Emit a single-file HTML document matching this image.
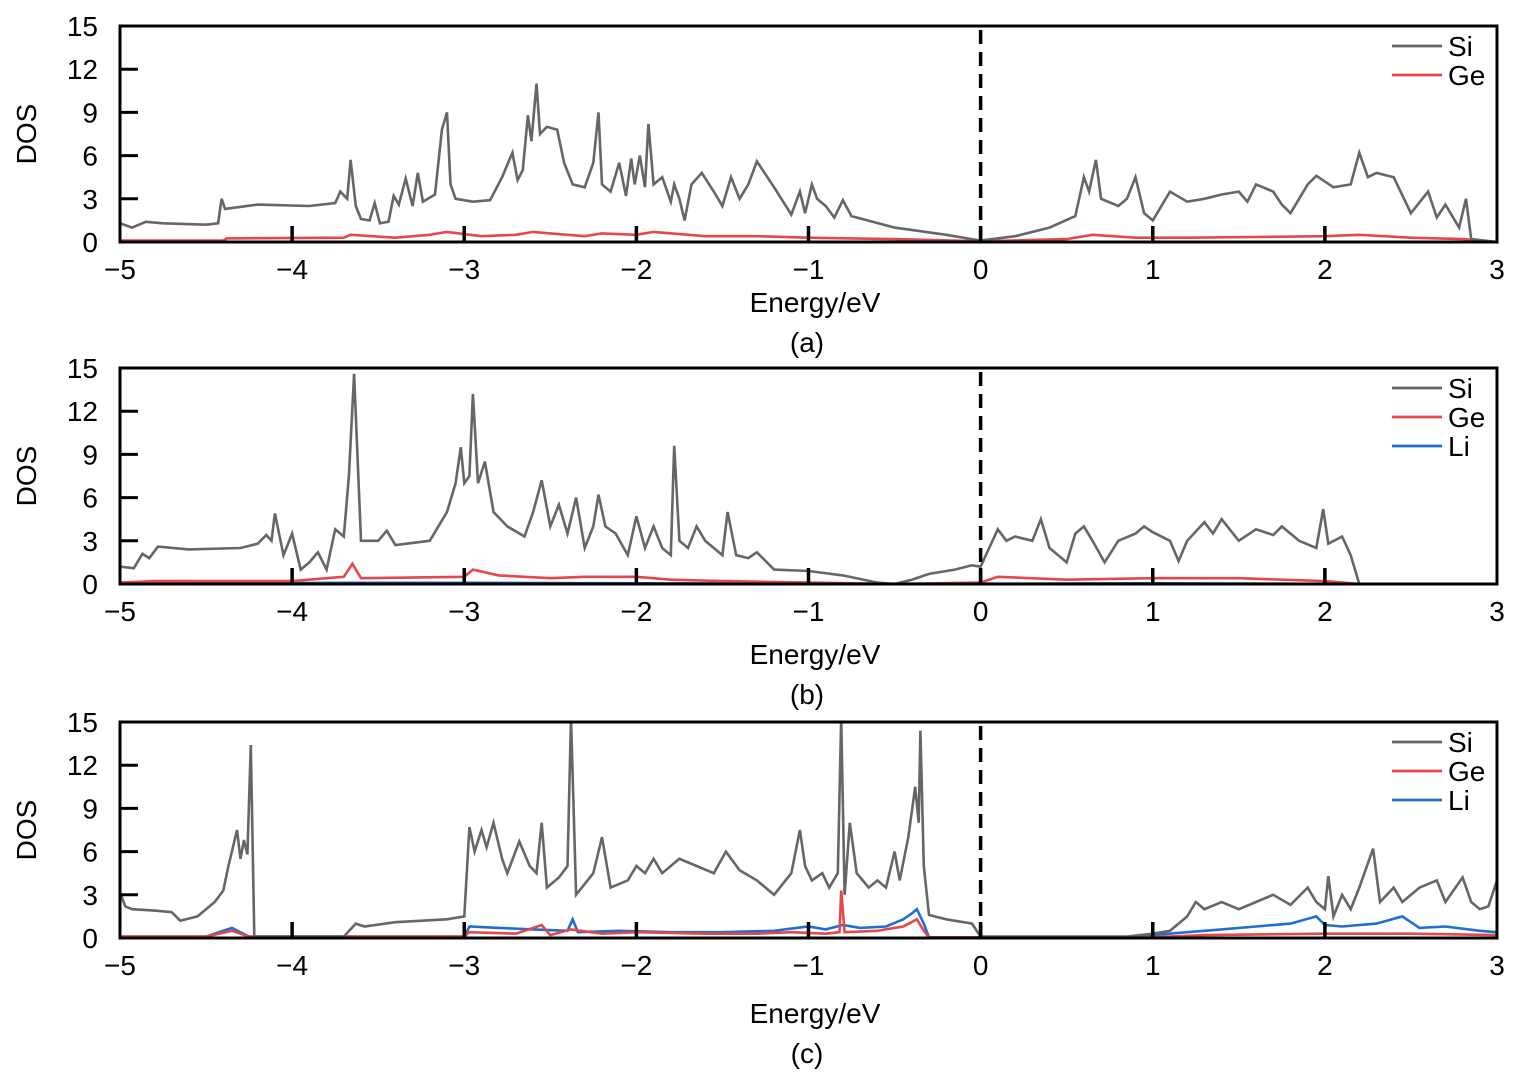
<!DOCTYPE html>
<html><head><meta charset="utf-8">
<style>
html,body{margin:0;padding:0;background:#fff;}
svg text{font-family:"Liberation Sans",Arial,sans-serif;fill:#000;}
</style></head>
<body>
<svg id="chart" width="1520" height="1070" xmlns="http://www.w3.org/2000/svg"></svg>
<script>
const xTicks=[-5,-4,-3,-2,-1,0,1,2,3];
const yTicks=[0,3,6,9,12,15];
const panelLabels=["(a)","(b)","(c)"];
const siA=[[-5,1.3],[-4.93,1.0],[-4.85,1.4],[-4.75,1.3],[-4.5,1.2],[-4.43,1.3],[-4.41,3.0],[-4.39,2.3],[-4.2,2.6],[-3.9,2.5],[-3.75,2.7],[-3.72,3.5],[-3.68,3.0],[-3.66,5.7],[-3.63,2.5],[-3.6,1.6],[-3.55,1.5],[-3.52,2.7],[-3.49,1.3],[-3.44,1.4],[-3.41,3.2],[-3.38,2.6],[-3.34,4.4],[-3.3,2.5],[-3.27,4.8],[-3.24,2.8],[-3.17,3.3],[-3.13,7.8],[-3.1,9.0],[-3.08,4.0],[-3.05,3.0],[-2.95,2.8],[-2.85,2.9],[-2.78,4.5],[-2.72,6.2],[-2.69,4.3],[-2.66,5.0],[-2.63,8.8],[-2.61,7.0],[-2.58,11.0],[-2.56,7.5],[-2.52,8.0],[-2.46,7.8],[-2.42,5.5],[-2.37,4.0],[-2.3,3.8],[-2.25,5.5],[-2.22,9.0],[-2.2,4.0],[-2.15,3.5],[-2.1,5.5],[-2.06,3.2],[-2.03,5.8],[-2.01,4.0],[-1.98,6.0],[-1.95,3.8],[-1.93,8.2],[-1.9,4.0],[-1.85,4.5],[-1.8,2.8],[-1.78,4.0],[-1.75,3.0],[-1.72,1.5],[-1.68,4.0],[-1.62,4.8],[-1.55,3.5],[-1.5,2.5],[-1.45,4.5],[-1.4,3.0],[-1.35,4.0],[-1.3,5.6],[-1.2,3.8],[-1.1,1.9],[-1.05,3.5],[-1.02,2.0],[-0.98,4.0],[-0.95,3.0],[-0.9,2.5],[-0.85,1.7],[-0.8,2.9],[-0.75,1.8],[-0.5,1.0],[-0.2,0.5],[0,0.1],[0.2,0.4],[0.4,1.0],[0.55,1.8],[0.6,4.5],[0.63,3.5],[0.67,5.7],[0.7,3.0],[0.8,2.5],[0.85,3.0],[0.9,4.5],[0.95,2.0],[1.0,1.5],[1.1,3.5],[1.2,2.8],[1.3,3.0],[1.4,3.3],[1.5,3.5],[1.55,2.8],[1.6,4.0],[1.7,3.5],[1.75,2.6],[1.8,2.0],[1.85,3.0],[1.9,4.0],[1.95,4.6],[2.05,3.8],[2.15,4.0],[2.2,6.2],[2.25,4.5],[2.3,4.8],[2.4,4.5],[2.5,2.0],[2.6,3.5],[2.65,1.7],[2.7,2.6],[2.78,1.0],[2.82,3.0],[2.85,0.2],[3,0]];
const geA=[[-5,0.1],[-4.4,0.1],[-4.38,0.25],[-3.7,0.3],[-3.66,0.5],[-3.4,0.3],[-3.2,0.5],[-3.1,0.7],[-2.9,0.4],[-2.7,0.5],[-2.6,0.7],[-2.5,0.6],[-2.3,0.4],[-2.2,0.6],[-2.0,0.5],[-1.9,0.7],[-1.6,0.4],[-1.3,0.4],[-1.0,0.3],[-0.5,0.2],[0,0.05],[0.5,0.2],[0.65,0.5],[0.9,0.3],[1.2,0.3],[1.6,0.35],[2.0,0.4],[2.2,0.5],[2.5,0.3],[2.8,0.2],[3,0]];
const siB=[[-5,1.2],[-4.92,1.1],[-4.87,2.1],[-4.83,1.8],[-4.78,2.6],[-4.6,2.4],[-4.3,2.5],[-4.2,2.8],[-4.15,3.4],[-4.12,3.0],[-4.1,4.9],[-4.05,2.0],[-4.0,3.5],[-3.95,1.0],[-3.9,1.5],[-3.85,2.2],[-3.8,1.0],[-3.75,3.8],[-3.7,3.3],[-3.67,7.5],[-3.64,14.6],[-3.6,3.0],[-3.5,3.0],[-3.45,3.7],[-3.4,2.7],[-3.2,3.0],[-3.1,5.0],[-3.05,7.0],[-3.02,9.5],[-3.0,7.0],[-2.97,7.5],[-2.95,13.2],[-2.92,7.0],[-2.88,8.5],[-2.83,5.0],[-2.75,4.0],[-2.65,3.3],[-2.6,5.0],[-2.55,7.2],[-2.5,4.0],[-2.45,5.5],[-2.4,3.5],[-2.35,6.0],[-2.3,2.5],[-2.25,4.0],[-2.22,6.2],[-2.18,4.0],[-2.12,3.5],[-2.05,2.0],[-2.0,4.7],[-1.95,2.5],[-1.9,4.0],[-1.85,2.5],[-1.8,2.0],[-1.78,9.6],[-1.75,3.0],[-1.7,2.5],[-1.65,4.0],[-1.6,3.0],[-1.55,2.5],[-1.5,2.0],[-1.47,5.0],[-1.42,2.0],[-1.35,1.8],[-1.3,2.2],[-1.2,1.0],[-1.0,0.9],[-0.8,0.6],[-0.6,0.1],[-0.5,0.0],[-0.4,0.3],[-0.3,0.7],[-0.15,1.0],[-0.05,1.3],[0,1.2],[0.05,2.5],[0.1,3.8],[0.15,3.0],[0.2,3.3],[0.3,3.0],[0.35,4.5],[0.4,2.5],[0.5,1.5],[0.55,3.5],[0.6,4.0],[0.65,3.0],[0.72,1.5],[0.8,3.0],[0.9,3.5],[0.95,4.0],[1.0,3.6],[1.1,3.0],[1.15,1.6],[1.2,3.0],[1.3,4.3],[1.35,3.5],[1.4,4.5],[1.5,3.0],[1.6,3.8],[1.7,3.4],[1.75,4.0],[1.85,3.0],[1.95,2.5],[1.99,5.2],[2.02,2.8],[2.1,3.3],[2.15,2.0],[2.2,0],[3,0]];
const geB=[[-5,0.1],[-4.8,0.2],[-4.0,0.2],[-3.7,0.5],[-3.65,1.4],[-3.6,0.4],[-3.0,0.5],[-2.95,1.0],[-2.8,0.6],[-2.5,0.4],[-2.3,0.5],[-2.0,0.5],[-1.8,0.3],[-1.5,0.2],[-1.0,0.1],[-0.5,0],[0,0.1],[0.1,0.5],[0.5,0.3],[1.0,0.4],[1.5,0.4],[2.0,0.2],[2.2,0],[3,0]];
const liB=[[-5,0.03],[-3.65,0.08],[-3.0,0.08],[-2.0,0.05],[-1.0,0.02],[0,0.02],[1.0,0.05],[2.2,0],[3,0]];
const siC=[[-5,3.2],[-4.97,2.2],[-4.93,2.0],[-4.8,1.9],[-4.7,1.8],[-4.65,1.2],[-4.55,1.5],[-4.45,2.5],[-4.4,3.3],[-4.37,5.0],[-4.35,6.0],[-4.32,7.5],[-4.3,5.5],[-4.28,6.8],[-4.26,5.8],[-4.24,13.4],[-4.22,0.1],[-3.7,0.1],[-3.63,1.0],[-3.58,0.8],[-3.4,1.1],[-3.1,1.3],[-3.0,1.5],[-2.97,7.7],[-2.94,6.0],[-2.9,7.5],[-2.87,6.3],[-2.83,8.0],[-2.78,5.5],[-2.75,4.5],[-2.68,6.7],[-2.62,5.0],[-2.58,4.5],[-2.55,8.0],[-2.52,3.5],[-2.45,4.2],[-2.4,5.0],[-2.38,16],[-2.35,3.0],[-2.25,4.5],[-2.2,7.0],[-2.15,3.5],[-2.05,4.0],[-2.0,5.0],[-1.95,4.5],[-1.9,5.5],[-1.85,4.5],[-1.75,5.5],[-1.65,5.0],[-1.55,4.5],[-1.48,6.0],[-1.4,4.7],[-1.3,4.0],[-1.2,3.0],[-1.1,4.5],[-1.05,7.5],[-1.02,5.0],[-0.98,4.0],[-0.92,4.5],[-0.88,3.5],[-0.83,4.5],[-0.81,16],[-0.79,3.0],[-0.76,8.0],[-0.72,4.5],[-0.65,3.5],[-0.6,4.0],[-0.55,3.5],[-0.5,6.0],[-0.47,4.0],[-0.42,7.0],[-0.38,10.5],[-0.36,8.0],[-0.35,14.4],[-0.33,5.0],[-0.3,1.6],[-0.2,1.3],[-0.05,1.0],[0,0.1],[0.85,0.1],[1.0,0.3],[1.1,0.5],[1.2,1.5],[1.25,2.5],[1.3,2.0],[1.4,2.5],[1.5,2.0],[1.6,2.5],[1.7,3.0],[1.8,2.3],[1.9,3.5],[1.95,2.5],[2.0,2.0],[2.02,4.3],[2.05,1.5],[2.1,3.0],[2.15,2.0],[2.2,3.5],[2.28,6.2],[2.32,2.5],[2.4,3.5],[2.45,2.5],[2.55,3.5],[2.65,4.0],[2.7,2.5],[2.8,4.2],[2.85,2.5],[2.9,2.0],[2.95,2.2],[3.0,4.0]];
const geC=[[-5,0.1],[-4.5,0.1],[-4.35,0.5],[-4.25,0.1],[-3.0,0.1],[-2.97,0.4],[-2.7,0.3],[-2.55,0.9],[-2.5,0.2],[-2.38,0.6],[-2.2,0.3],[-2.0,0.4],[-1.6,0.3],[-1.3,0.3],[-1.1,0.4],[-0.9,0.3],[-0.82,0.4],[-0.81,3.3],[-0.79,0.4],[-0.6,0.5],[-0.45,0.8],[-0.37,1.3],[-0.33,0.5],[-0.3,0.05],[1.0,0.05],[1.3,0.2],[2.0,0.3],[2.5,0.3],[3,0.2]];
const liC=[[-5,0.1],[-4.5,0.1],[-4.35,0.7],[-4.25,0.1],[-3.0,0.1],[-2.97,0.8],[-2.8,0.7],[-2.6,0.6],[-2.4,0.5],[-2.37,1.3],[-2.34,0.4],[-2.1,0.5],[-1.8,0.4],[-1.5,0.4],[-1.2,0.5],[-1.0,0.8],[-0.9,0.6],[-0.8,0.9],[-0.7,0.7],[-0.55,0.8],[-0.45,1.3],[-0.4,1.7],[-0.37,2.0],[-0.33,1.0],[-0.3,0.05],[0.8,0.05],[1.0,0.2],[1.2,0.4],[1.4,0.6],[1.6,0.8],[1.8,1.0],[1.95,1.5],[2.0,0.9],[2.1,0.8],[2.3,1.0],[2.45,1.5],[2.55,0.7],[2.7,0.8],[2.9,0.5],[3,0.4]];
const panels=[
 {top:26,series:[["Si",siA,"#666"],["Ge",geA,"#e5474b"]]},
 {top:368,series:[["Si",siB,"#666"],["Ge",geB,"#e5474b"],["Li",liB,"#1f6fd1"]]},
 {top:722,series:[["Si",siC,"#666"],["Ge",geC,"#e5474b"],["Li",liC,"#1f6fd1"]]}];
const svg=document.getElementById('chart');
const NS="http://www.w3.org/2000/svg";
function mk(tag,attrs,parent){const e=document.createElementNS(NS,tag);for(const k in attrs)e.setAttribute(k,attrs[k]);(parent||svg).appendChild(e);return e;}
const X0=120,X1=1497,H=216;
const xs=v=>X0+(v+5)/8*(X1-X0);
panels.forEach((p,i)=>{
 const ys=v=>p.top+H-Math.min(v,15.3)/15*H;
 const g=mk('g',{});
 
 
 const cp=mk('clipPath',{id:'cp'+i},g);
 mk('rect',{x:X0,y:p.top-1,width:X1-X0,height:H+1},cp);
 p.series.slice().reverse().forEach(s=>{
  const d=s[1].map((pt,j)=>(j?'L':'M')+xs(pt[0]).toFixed(1)+' '+ys(pt[1]).toFixed(1)).join(' ');
  const path=mk('path',{d:d,fill:'none',stroke:s[2],'stroke-width':2.6,'clip-path':'url(#cp'+i+')'},g);
  
  
 });
 const fr=mk('rect',{x:X0,y:p.top,width:X1-X0,height:H,fill:'none',stroke:'#000','stroke-width':3},g);
 
 
 const dl=mk('line',{x1:xs(0),x2:xs(0),y1:p.top+4,y2:p.top+H,stroke:'#000','stroke-width':3.5,'stroke-dasharray':'14,8'},g);
 
 
 xTicks.forEach(t=>{
  if(t>-5&&t<3){const tl=mk('line',{x1:xs(t),x2:xs(t),y1:p.top+H,y2:p.top+H-16,stroke:'#000','stroke-width':3.5},g);
  
  }
  const tx=mk('text',{x:xs(t),y:p.top+H+37,'text-anchor':'middle','font-size':28},g);
  tx.textContent=(t<0?'\u2212'+(-t):t);
  
  
 });
 yTicks.forEach(t=>{
  const tl=mk('line',{x1:X0,x2:X0+18,y1:ys(t),y2:ys(t),stroke:'#000','stroke-width':3},g);
  
  
  const tx=mk('text',{x:X0-22,y:ys(t)+10,'text-anchor':'end','font-size':28},g);
  tx.textContent=t;
  
  
 });
 const yt=mk('text',{x:36,y:p.top+H/2,'text-anchor':'middle','font-size':28,transform:'rotate(-90 36 '+(p.top+H/2)+')'},g);
 yt.textContent='DOS';
 
 
 const xtY=[p.top+H+70,p.top+H+80,p.top+H+85][i];
 const xt=mk('text',{x:815,y:xtY,'text-anchor':'middle','font-size':28},g);
 xt.textContent='Energy/eV';
 
 
 const pl=mk('text',{x:807,y:xtY+40,'text-anchor':'middle','font-size':28},g);
 pl.textContent=panelLabels[i];
 
 
 p.series.forEach((s,k)=>{
  const ly=p.top+20+k*29;
  const lg=mk('g',{},g);
  
  
  mk('line',{x1:1392,x2:1442,y1:ly,y2:ly,stroke:s[2],'stroke-width':2.8},lg);
  const lt=mk('text',{x:1448,y:ly+10,'font-size':28},lg);
  lt.textContent=s[0];
 });
});
</script>
</body></html>
